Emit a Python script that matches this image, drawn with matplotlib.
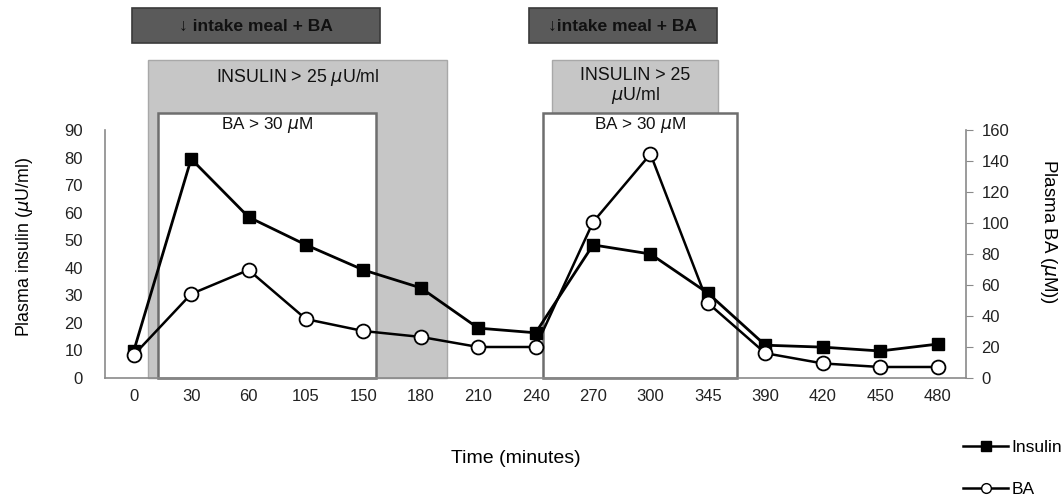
import matplotlib.pyplot as plt
from matplotlib.patches import Rectangle
from matplotlib.lines import Line2D
import matplotlib.transforms as mtransforms

plt.rcParams["font.family"] = ["Liberation Sans", "DejaVu Sans"]
plt.rcParams["mathtext.fontset"] = "dejavusans"

time_labels = ["0", "30", "60", "105", "150", "180", "210", "240",
               "270", "300", "345", "390", "420", "450", "480"]
insulin = [9.8, 79.5, 58.4, 48.3, 39.2, 32.7, 18.1, 16.4,
           48.3, 45.0, 30.8, 11.9, 11.2, 9.8, 12.3]
ba = [14.8, 54.2, 69.7, 38.0, 30.3, 26.5, 20.0, 20.0,
      100.6, 144.5, 48.4, 16.0, 9.4, 7.1, 7.1]

pos = list(range(len(time_labels)))
grey = "#8a8a8a"

fig = plt.figure(figsize=(10.63, 4.99), dpi=100)
ax = fig.add_axes([0.0988, 0.2425, 0.8102, 0.497])
ax2 = ax.twinx()

ax.set_xlim(-0.5, 14.5)
ax.set_ylim(0, 90)
ax2.set_ylim(0, 160)
ax.set_yticks(range(0, 91, 10))
ax2.set_yticks(range(0, 161, 20))
ax.set_xticks(pos)
ax.set_xticklabels(time_labels)

for a in (ax, ax2):
    for s in a.spines.values():
        s.set_visible(False)
    a.tick_params(labelsize=12, colors="#222222")
for a, side in ((ax, "left"), (ax, "bottom"), (ax2, "right")):
    a.spines[side].set_visible(True)
    a.spines[side].set_color(grey)
    a.spines[side].set_linewidth(1.2)
ax.tick_params(axis="x", length=0, pad=8)
ax.tick_params(axis="y", length=0, pad=16)
ax2.tick_params(axis="y", length=5, color=grey, pad=6)

# shaded windows (x in category units, y in axes fraction)
trans = mtransforms.blended_transform_factory(ax.transData, ax.transAxes)
boxes = [
    # x0, x1, y0, y1, face, edge, lw
    (0.24, 5.46, 0.0, 1.282, "#c6c6c6", "#a8a8a8", 1.0),
    (7.29, 10.17, 1.069, 1.282, "#c6c6c6", "#a8a8a8", 1.0),
    (0.42, 4.22, 0.0, 1.069, "white", "#6e6e6e", 1.8),
    (7.12, 10.50, 0.0, 1.069, "white", "#6e6e6e", 1.8),
    (-0.03, 4.29, 1.351, 1.492, "#5a5a5a", "#3a3a3a", 1.2),
    (6.88, 10.16, 1.351, 1.492, "#5a5a5a", "#3a3a3a", 1.2),
]
for x0, x1, y0, y1, fc, ec, lw in boxes:
    ax.add_patch(Rectangle((x0, y0), x1 - x0, y1 - y0, transform=trans,
                           facecolor=fc, edgecolor=ec, lw=lw,
                           clip_on=False, zorder=0))

ax.text(2.85, 1.21, r"INSULIN > 25 $\mu$U/ml", transform=trans,
        ha="center", va="center", fontsize=12.8, color="#111111")
ax.text(8.73, 1.175, "INSULIN > 25\n" + r"$\mu$U/ml", transform=trans,
        ha="center", va="center", fontsize=12.8, color="#111111",
        linespacing=1.05)
ax.text(2.32, 1.02, r"BA > 30 $\mu$M", transform=trans,
        ha="center", va="center", fontsize=12.3, color="#111111")
ax.text(8.81, 1.02, r"BA > 30 $\mu$M", transform=trans,
        ha="center", va="center", fontsize=12.3, color="#111111")
ax.text(2.13, 1.418, "\u2193 intake meal + BA", transform=trans,
        ha="center", va="center", fontsize=12.6, fontweight="bold",
        color="#111111")
ax.text(8.52, 1.418, "\u2193intake meal + BA", transform=trans,
        ha="center", va="center", fontsize=12.6, fontweight="bold",
        color="#111111")

ax.set_zorder(ax2.get_zorder() + 1)
ax.patch.set_visible(False)

ax.plot(pos, insulin, color="black", lw=2, marker="s", ms=8,
        mfc="black", mec="black", zorder=4)
ax.plot(pos, [v * 90 / 160 for v in ba], color="black", lw=1.8,
        marker="o", ms=10, mfc="white", mec="black", mew=1.3, zorder=5)

ax.set_ylabel(r"Plasma insulin ($\mu$U/ml)", fontsize=12.8)
ax.yaxis.set_label_coords(-0.081, 0.53)
ax2.set_ylabel(r"Plasma BA ($\mu$M))", fontsize=13.5, rotation=270,
               va="center")
ax2.yaxis.set_label_coords(1.095, 0.59)
fig.text(0.485, 0.082, "Time (minutes)", ha="center", va="center",
         fontsize=14)

handles = [
    Line2D([], [], color="black", lw=1.8, marker="s", ms=7, mfc="black"),
    Line2D([], [], color="black", lw=1.8, marker="o", ms=7, mfc="white"),
]
fig.legend(handles, ["Insulin", "BA"], loc="upper left",
           bbox_to_anchor=(0.906, 0.118), frameon=False, fontsize=12.5,
           handlelength=2.6, handletextpad=0.2, labelspacing=1.55,
           borderaxespad=0, borderpad=0)

fig.savefig("out.png", dpi=100)
